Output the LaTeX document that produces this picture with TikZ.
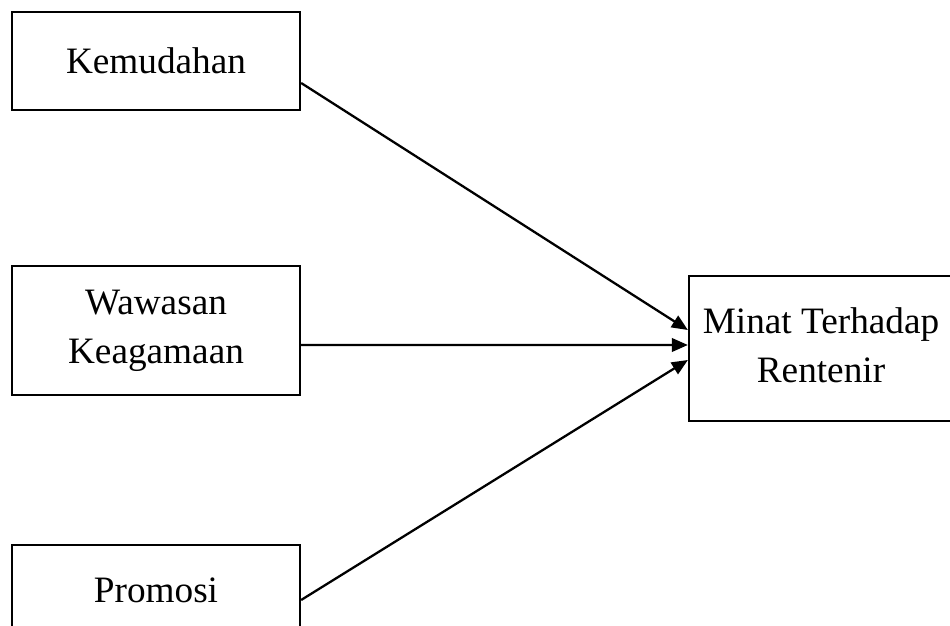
\documentclass[tikz,border=0pt]{standalone}
\usepackage{fontspec}
\setmainfont{Liberation Serif}
\usepackage{tikz}
\usetikzlibrary{arrows.meta, positioning}

\begin{document}
\begin{tikzpicture}[font=\fontsize{21.2}{27.9}\selectfont,
	varbox/.style={draw, line width=1.3pt, minimum width=5.76cm, align=center, inner sep=0pt},
	link/.style={-{Triangle[length=0.32cm, width=0.27cm]}, line width=1.3pt}]
					\useasboundingbox (0,0) rectangle (19,12.5);
					\node[varbox, minimum height=1.96cm] (kem) at (3.12,11.28) {Kemudahan};
					\node[varbox, minimum height=2.58cm] (waw) at (3.12,5.89) {Wawasan\\Keagamaan};
					\node[varbox, minimum height=2cm] (pro) at (3.12,0.6) {\raisebox{0.2cm}{Promosi}};
					\node[varbox, minimum width=5.28cm, minimum height=2.9cm] (min) at (16.42,5.53) {\raisebox{0.15cm}{\begin{tabular}{@{}c@{}}Minat Terhadap\\Rentenir\end{tabular}}};
					\draw[link] ([yshift=-0.44cm]kem.east) -- ([yshift=0.37cm]min.west);
					\draw[link] ([yshift=-0.29cm]waw.east) -- ([yshift=0.07cm]min.west);
					\draw[link] ([yshift=-0.1cm]pro.east) -- ([yshift=-0.23cm]min.west);
				\end{tikzpicture}
\end{document}
